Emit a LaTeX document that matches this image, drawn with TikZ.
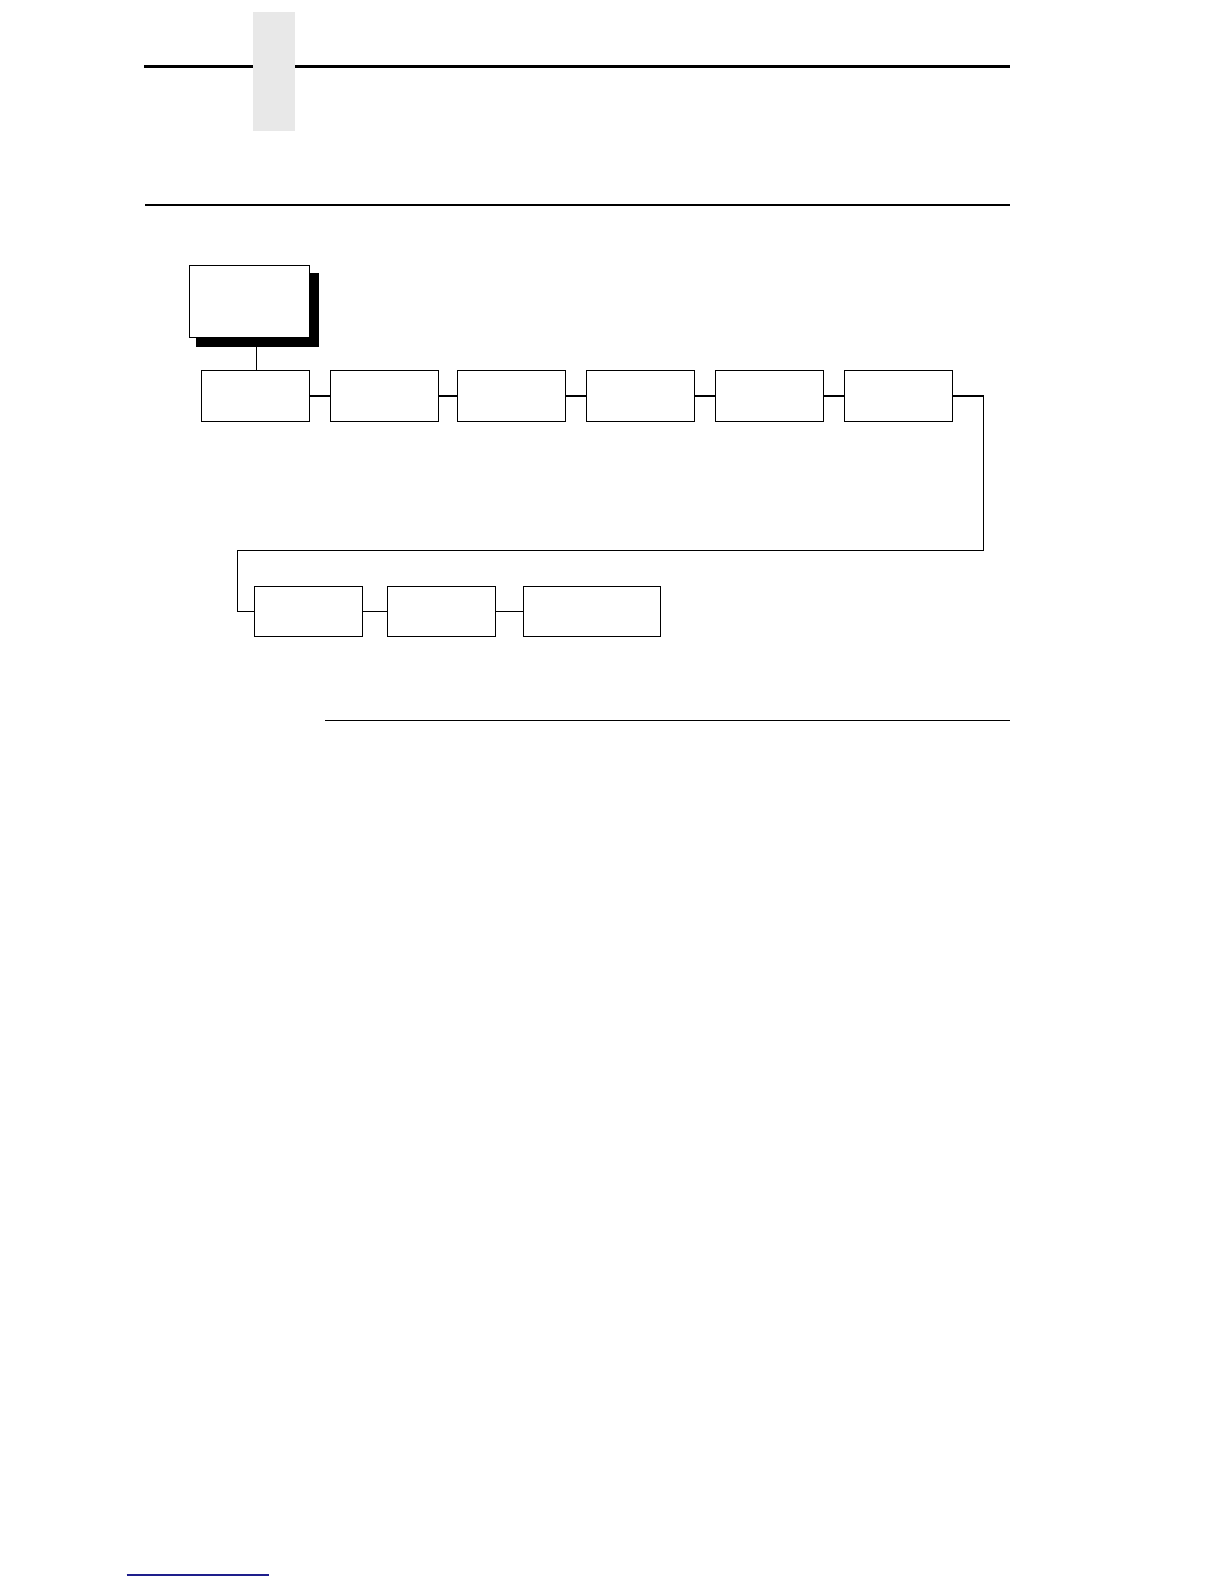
\documentclass[tikz,border=0pt]{standalone}
\begin{document}
\begin{tikzpicture}[x=0.5pt,y=-0.5pt,
  menubox/.style={draw,fill=white,line width=0.7pt,inner sep=0pt,outer sep=0pt,anchor=north west},
  link/.style={line width=0.7pt},
  rulethin/.style={line width=0.65pt},
  rulethick/.style={line width=1.2pt}]
\useasboundingbox (0,0) rectangle (1224,1584);
% header rules
\draw[rulethick] (144,66.7) -- (1009.7,66.7);
\fill[black!9] (253,12) rectangle (295,131.5);
\draw[rulethin] (145,205) -- (1009.7,205);
\draw[rulethin] (325,720.3) -- (1009.7,720.3);
% footer link line
\draw[line width=0.8pt,color={rgb,255:red,30;green,30;blue,140}] (126.7,1574.7) -- (269,1574.7);
% top box with shadow
\node[menubox,fill=black,draw=black,minimum width=60.5pt,minimum height=36.3pt] (shadow) at (197,274) {};
\node[menubox,minimum width=60.2pt,minimum height=36pt] (top) at (189.3,265.3) {};
% row 1
\node[menubox,minimum width=54.2pt,minimum height=25.5pt] (a1) at (201.3,370.3) {};
\node[menubox,minimum width=54.2pt,minimum height=25.5pt] (a2) at (330.3,370.3) {};
\node[menubox,minimum width=54.2pt,minimum height=25.5pt] (a3) at (457.3,370.3) {};
\node[menubox,minimum width=54.2pt,minimum height=25.5pt] (a4) at (586.3,370.3) {};
\node[menubox,minimum width=54.2pt,minimum height=25.5pt] (a5) at (715.3,370.3) {};
\node[menubox,minimum width=54.2pt,minimum height=25.5pt] (a6) at (844.3,370.3) {};
% row 2
\node[menubox,minimum width=54.2pt,minimum height=25.2pt] (c1) at (254.3,586.3) {};
\node[menubox,minimum width=54.2pt,minimum height=25.2pt] (c2) at (387.3,586.3) {};
\node[menubox,minimum width=68.7pt,minimum height=25.2pt] (c3) at (523.3,586.3) {};
% connectors
\draw[link] (shadow.south -| 256.3,0) -- (a1.north -| 256.3,0);
\draw[link] (a1.east) -- (a2.west);
\draw[link] (a2.east) -- (a3.west);
\draw[link] (a3.east) -- (a4.west);
\draw[link] (a4.east) -- (a5.west);
\draw[link] (a5.east) -- (a6.west);
\coordinate (r1) at (983.3,395.8);
\coordinate (r2) at (983.3,550.3);
\coordinate (l1) at (237.3,550.3);
\draw[link] (a6.east) -- (r1) -- (r2) -- (l1) -- (l1 |- c1.west) -- (c1.west);
\draw[link] (c1.east) -- (c2.west);
\draw[link] (c2.east) -- (c3.west);
\end{tikzpicture}
\end{document}
